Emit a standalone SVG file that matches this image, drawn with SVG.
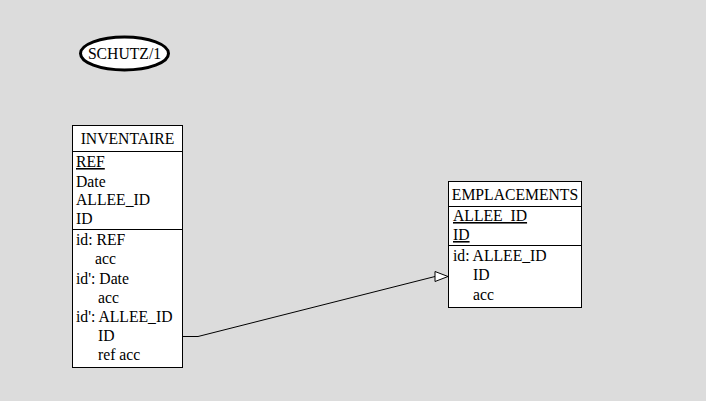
<svg xmlns="http://www.w3.org/2000/svg" width="706" height="401" viewBox="0 0 706 401">
<style>
text{font-family:"Liberation Serif","Times New Roman",serif;font-size:15.7px;fill:#000}
.box{fill:#fff;stroke:#000;stroke-width:1}
.u{text-decoration:underline}
</style>
<rect x="0" y="0" width="706" height="401" fill="#dcdcdc"/>
<g id="schutz">
<ellipse cx="124.5" cy="53.5" rx="44" ry="16.5" fill="#fff" stroke="#000" stroke-width="3"/>
<text x="124.5" y="59" text-anchor="middle">SCHUTZ/1</text>
</g>
<g id="inventaire">
<rect class="box" x="72.5" y="125.5" width="110" height="242"/>
<line x1="72.5" y1="151.5" x2="182.5" y2="151.5" stroke="#000"/>
<line x1="72.5" y1="229.5" x2="182.5" y2="229.5" stroke="#000"/>
<text x="127.5" y="144" text-anchor="middle">INVENTAIRE</text>
<text x="76" y="167" class="u">REF</text>
<text x="76" y="187">Date</text>
<text x="76" y="205">ALLEE_ID</text>
<text x="76" y="224">ID</text>
<text x="76" y="245">id: REF</text>
<text x="95" y="264">acc</text>
<text x="76" y="284">id': Date</text>
<text x="98" y="303">acc</text>
<text x="76" y="322">id': ALLEE_ID</text>
<text x="98" y="341">ID</text>
<text x="98" y="360">ref acc</text>
</g>
<g id="emplacements">
<rect class="box" x="448.5" y="181.5" width="133" height="126"/>
<line x1="448.5" y1="206.5" x2="581.5" y2="206.5" stroke="#000"/>
<line x1="448.5" y1="245.5" x2="581.5" y2="245.5" stroke="#000"/>
<text x="515" y="200" text-anchor="middle">EMPLACEMENTS</text>
<text x="453" y="221" class="u">ALLEE_ID</text>
<text x="453" y="240" class="u">ID</text>
<text x="453" y="261">id: ALLEE_ID</text>
<text x="473" y="280">ID</text>
<text x="473" y="300">acc</text>
</g>
<g id="connectors">
<polyline points="183,336.5 198,336.5 435,276.5" fill="none" stroke="#000" stroke-width="1"/>
<polygon points="435,271.5 448,276.5 435,281.5" fill="#fff" stroke="#000" stroke-width="1"/>
</g>
</svg>
